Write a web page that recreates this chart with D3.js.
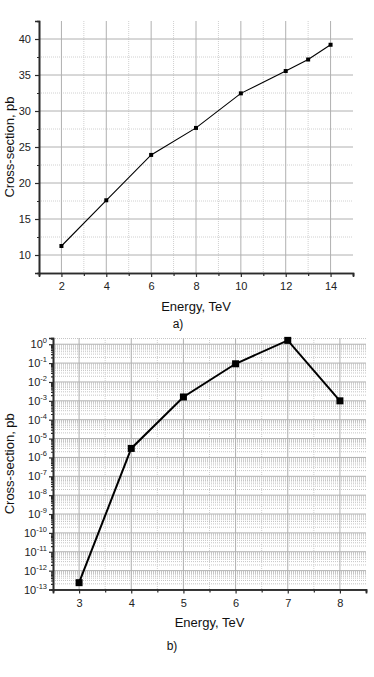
<!DOCTYPE html>
<html>
<head>
<meta charset="utf-8">
<script src="https://cdn.jsdelivr.net/npm/d3@7"></script>
<style>
  html, body { margin: 0; padding: 0; background: #fff; }
  svg { display: block; font-family: "Liberation Sans", Arial, sans-serif; }
</style>
</head>
<body>
<svg id="chart" width="374" height="677"></svg>
<script>
// ---- Data ----
const energyA = [2, 4, 6, 8, 10, 12, 13, 14];
const sigmaA = [11.25, 17.6, 23.9, 27.65, 32.45, 35.55, 37.15, 39.2];
const xTicksA = [2, 4, 6, 8, 10, 12, 14];
const yTicksA = [10, 15, 20, 25, 30, 35, 40];

const energyB = [3, 4, 5, 6, 7, 8];
const sigmaB = [2.3e-13, 3.0e-6, 1.6e-3, 0.092, 1.6, 1.0e-3];
const xTicksB = [3, 4, 5, 6, 7, 8];
const yExpB = [0, -1, -2, -3, -4, -5, -6, -7, -8, -9, -10, -11, -12, -13];

const xLabel = "Energy, TeV";
const yLabel = "Cross-section, pb";

const svg = d3.select("#chart");
const AXIS = "#2b2b2b", GRID = "#b0b0b0", MINOR = "#d0d0d0", MINOR_B = "#c4c4c4";

// ================= Chart a =================
(function () {
  const L = 39, R = 353, T = 21, B = 273;
  const x = d3.scaleLinear().domain([1, 15]).range([L, R]);
  const y = d3.scaleLinear().domain([7.5, 42.5]).range([B, T]);
  const g = svg.append("g");

  const xMinor = d3.range(3, 15, 2);
  g.selectAll(".vmin").data(xMinor).join("line")
    .attr("x1", d => x(d)).attr("x2", d => x(d)).attr("y1", T).attr("y2", B)
    .attr("stroke", MINOR).attr("stroke-dasharray", "1,1");
  const yMinor = d3.range(12.5, 42.5, 5);
  g.selectAll(".hmin").data(yMinor).join("line")
    .attr("x1", L).attr("x2", R).attr("y1", d => y(d)).attr("y2", d => y(d))
    .attr("stroke", MINOR).attr("stroke-dasharray", "1,1");
  g.selectAll(".vmaj").data(xTicksA).join("line")
    .attr("x1", d => x(d)).attr("x2", d => x(d)).attr("y1", T).attr("y2", B)
    .attr("stroke", GRID);
  g.selectAll(".hmaj").data(yTicksA).join("line")
    .attr("x1", L).attr("x2", R).attr("y1", d => y(d)).attr("y2", d => y(d))
    .attr("stroke", GRID);

  const xAx = d3.axisBottom(x).tickValues(xTicksA).tickSize(4).tickPadding(5).tickFormat(d3.format("d"));
  g.append("g").attr("transform", `translate(0,${B})`).call(xAx);
  const xMinAx = d3.axisBottom(x).tickValues(d3.range(1, 16, 2)).tickSize(3).tickFormat("");
  g.append("g").attr("transform", `translate(0,${B})`).call(xMinAx);
  const yAx = d3.axisLeft(y).tickValues(yTicksA).tickSize(4).tickPadding(4).tickFormat(d3.format("d"));
  g.append("g").attr("transform", `translate(${L},0)`).call(yAx);
  const yMinAx = d3.axisLeft(y).tickValues(d3.range(7.5, 43, 2.5).filter(v => v % 5 !== 0)).tickSize(2).tickFormat("");
  g.append("g").attr("transform", `translate(${L},0)`).call(yMinAx);
  g.selectAll(".domain").attr("stroke", AXIS).attr("stroke-width", 1.6);
  g.selectAll(".tick line").attr("stroke", AXIS).attr("stroke-width", 1.2);
  g.selectAll(".tick text").attr("font-size", 11).attr("fill", "#222")
    .attr("font-family", "'Liberation Sans', Arial, sans-serif");

  const pts = energyA.map((e, i) => [e, sigmaA[i]]);
  g.append("path").datum(pts)
    .attr("d", d3.line().x(d => x(d[0])).y(d => y(d[1])))
    .attr("fill", "none").attr("stroke", "#000").attr("stroke-width", 1.1);
  g.selectAll(".mk").data(pts).join("rect")
    .attr("x", d => x(d[0]) - 2).attr("y", d => y(d[1]) - 2)
    .attr("width", 4).attr("height", 4).attr("fill", "#000");

  g.append("text").attr("x", (L + R) / 2).attr("y", 311).attr("text-anchor", "middle")
    .attr("font-size", 13).attr("fill", "#111").text(xLabel);
  g.append("text").attr("transform", `translate(14,${(T + B) / 2}) rotate(-90)`)
    .attr("text-anchor", "middle").attr("font-size", 13).attr("fill", "#111").text(yLabel);
  g.append("text").attr("x", 178).attr("y", 328).attr("text-anchor", "middle")
    .attr("font-size", 12).attr("fill", "#111").text("a)");
})();

// ================= Chart b =================
(function () {
  const L = 53, R = 366, T = 338, B = 589.5;
  const x = d3.scaleLinear().domain([2.5, 8.5]).range([L, R]);
  const y = d3.scaleLog().domain([1e-13, Math.pow(10, 0.33)]).range([B, T]);
  const g = svg.append("g");

  const yMinorVals = [];
  for (let e = -13; e <= 0; e++) for (let m = 2; m <= 9; m++) {
    const v = m * Math.pow(10, e);
    if (v <= y.domain()[1]) yMinorVals.push(v);
  }
  g.selectAll(".hmin").data(yMinorVals).join("line")
    .attr("x1", L).attr("x2", R).attr("y1", d => y(d)).attr("y2", d => y(d))
    .attr("stroke", MINOR_B).attr("stroke-dasharray", "1,1");
  const xMinor = d3.range(3.5, 8.5, 1);
  g.selectAll(".vmin").data(xMinor).join("line")
    .attr("x1", d => x(d)).attr("x2", d => x(d)).attr("y1", T).attr("y2", B)
    .attr("stroke", MINOR).attr("stroke-dasharray", "1,1");
  const yMajor = yExpB.map(e => Math.pow(10, e));
  g.selectAll(".hmaj").data(yMajor).join("line")
    .attr("x1", L).attr("x2", R).attr("y1", d => y(d)).attr("y2", d => y(d))
    .attr("stroke", GRID);
  g.selectAll(".vmaj").data(xTicksB).join("line")
    .attr("x1", d => x(d)).attr("x2", d => x(d)).attr("y1", T).attr("y2", B)
    .attr("stroke", GRID);

  const xAx = d3.axisBottom(x).tickValues(xTicksB).tickSize(4).tickPadding(6).tickFormat(d3.format("d"));
  g.append("g").attr("transform", `translate(0,${B})`).call(xAx);
  const xMinAx = d3.axisBottom(x).tickValues(d3.range(2.5, 9, 1)).tickSize(3).tickFormat("");
  g.append("g").attr("transform", `translate(0,${B})`).call(xMinAx);
  const yAx = d3.axisLeft(y).tickValues(yMajor).tickSize(4).tickPadding(5).tickFormat("");
  g.append("g").attr("transform", `translate(${L},0)`).call(yAx);
  const yMinAx = d3.axisLeft(y).tickValues(yMinorVals).tickSize(2).tickFormat("");
  g.append("g").attr("transform", `translate(${L},0)`).call(yMinAx);
  g.selectAll(".domain").attr("stroke", AXIS).attr("stroke-width", 1.6);
  g.selectAll(".tick line").attr("stroke", AXIS).attr("stroke-width", 1.2);
  g.selectAll(".tick text").attr("font-size", 11).attr("fill", "#222")
    .attr("font-family", "'Liberation Sans', Arial, sans-serif");

  const lab = g.append("g");
  yExpB.forEach(e => {
    const t = lab.append("text").attr("x", L - 6).attr("y", y(Math.pow(10, e)) + 4)
      .attr("text-anchor", "end").attr("font-size", 11).attr("fill", "#222");
    t.append("tspan").text("10");
    t.append("tspan").attr("dy", -5).attr("font-size", 7.5).text(e === 0 ? "0" : "-" + Math.abs(e));
  });

  const pts = energyB.map((e, i) => [e, sigmaB[i]]);
  g.append("path").datum(pts)
    .attr("d", d3.line().x(d => x(d[0])).y(d => y(d[1])))
    .attr("fill", "none").attr("stroke", "#000").attr("stroke-width", 2);
  g.selectAll(".mk").data(pts).join("rect")
    .attr("x", d => x(d[0]) - 3.5).attr("y", d => y(d[1]) - 3.5)
    .attr("width", 7).attr("height", 7).attr("fill", "#000");

  g.append("text").attr("x", (L + R) / 2).attr("y", 627).attr("text-anchor", "middle")
    .attr("font-size", 13).attr("fill", "#111").text(xLabel);
  g.append("text").attr("transform", `translate(14,${(T + B) / 2}) rotate(-90)`)
    .attr("text-anchor", "middle").attr("font-size", 13).attr("fill", "#111").text(yLabel);
  g.append("text").attr("x", 172).attr("y", 650).attr("text-anchor", "middle")
    .attr("font-size", 12).attr("fill", "#111").text("b)");
})();
</script>
</body>
</html>
